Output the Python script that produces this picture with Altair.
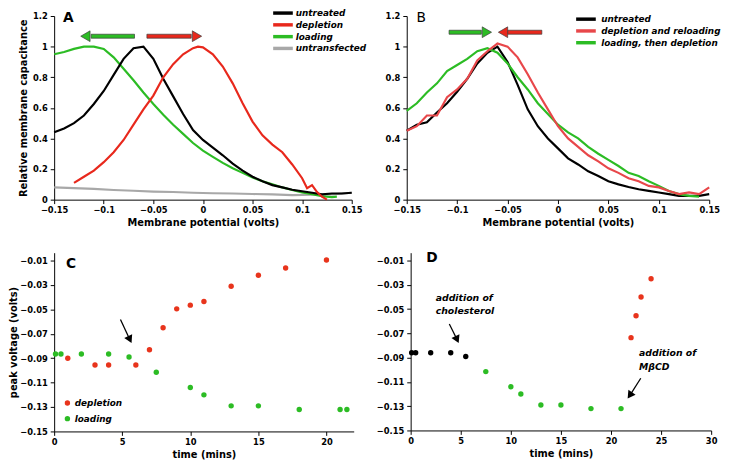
import altair as alt
import pandas as pd

FONT = "DejaVu Sans"

# ---------------- Panel A data ----------------
a_series = ["untreated", "depletion", "loading", "untransfected"]
a_colors = ["#000000", "#e8281c", "#2cbc24", "#a8a8a8"]

a_untreated_x = [-0.15, -0.14, -0.13, -0.12, -0.11, -0.10, -0.09, -0.08, -0.07, -0.06, -0.05,
                 -0.04, -0.03, -0.02, -0.01, 0.0, 0.01, 0.02, 0.03, 0.04, 0.05, 0.06, 0.07,
                 0.08, 0.09, 0.10, 0.11, 0.12, 0.13, 0.14, 0.15]
a_untreated = [0.44, 0.465, 0.50, 0.55, 0.625, 0.71, 0.815, 0.92, 0.99, 1.0, 0.92,
               0.79, 0.675, 0.56, 0.455, 0.39, 0.34, 0.29, 0.235, 0.19, 0.15, 0.12, 0.095,
               0.08, 0.065, 0.055, 0.045, 0.035, 0.04, 0.04, 0.045]

a_depletion_x = [-0.13, -0.12, -0.11, -0.10, -0.09, -0.08, -0.07, -0.06, -0.05, -0.04, -0.03,
                 -0.02, -0.01, -0.005, 0.0, 0.01, 0.02, 0.03, 0.04, 0.05, 0.06, 0.07, 0.08,
                 0.09, 0.10, 0.105, 0.11, 0.115, 0.12, 0.125]
a_depletion = [0.11, 0.15, 0.19, 0.245, 0.31, 0.39, 0.49, 0.59, 0.68, 0.80, 0.885,
               0.95, 0.99, 1.0, 0.995, 0.95, 0.87, 0.76, 0.63, 0.51, 0.42, 0.36, 0.31,
               0.23, 0.14, 0.075, 0.095, 0.05, 0.02, 0.0]

a_loading_x = [-0.15, -0.14, -0.13, -0.12, -0.11, -0.10, -0.09, -0.08, -0.07, -0.06, -0.05,
               -0.04, -0.03, -0.02, -0.01, 0.0, 0.01, 0.02, 0.03, 0.04, 0.05, 0.06, 0.07,
               0.08, 0.09, 0.10, 0.11, 0.12, 0.13, 0.135]
a_loading = [0.95, 0.965, 0.985, 1.0, 1.0, 0.985, 0.93, 0.855, 0.78, 0.70, 0.625,
             0.555, 0.49, 0.43, 0.37, 0.32, 0.28, 0.24, 0.205, 0.175, 0.145, 0.12, 0.10,
             0.08, 0.063, 0.047, 0.035, 0.022, 0.017, 0.02]

a_untransfected_x = [-0.15, -0.13, -0.11, -0.09, -0.07, -0.05, -0.03, -0.01, 0.01, 0.03,
                     0.05, 0.07, 0.09, 0.11, 0.13, 0.15]
a_untransfected = [0.08, 0.075, 0.07, 0.063, 0.058, 0.053, 0.05, 0.045, 0.042, 0.04,
                   0.037, 0.035, 0.03, 0.032, 0.035, 0.045]

# block arrows of panel A: body from/to, head centre, direction
a_arrow_color = ["#2cbc24", "#e8281c"]
a_arrow_body_x = [-0.1127, -0.0565]
a_arrow_body_x2 = [-0.069, -0.0118]
a_arrow_head_x = [-0.1185, -0.006]
a_arrow_head_shape = ["triangle-left", "triangle-right"]
a_arrow_y = [1.068, 1.068]

# ---------------- Panel B data ----------------
b_series = ["untreated", "depletion and reloading", "loading, then depletion"]
b_colors = ["#000000", "#e8474a", "#2cbc24"]

b_x = [-0.15, -0.14, -0.13, -0.12, -0.11, -0.10, -0.09, -0.08, -0.07, -0.06, -0.05,
       -0.04, -0.03, -0.02, -0.01, 0.0, 0.01, 0.02, 0.03, 0.04, 0.05, 0.06, 0.07,
       0.08, 0.09, 0.10, 0.11, 0.12, 0.13, 0.14, 0.15]
b_untreated = [0.45, 0.49, 0.505, 0.57, 0.63, 0.705, 0.79, 0.89, 0.96, 1.0, 0.90,
               0.75, 0.59, 0.48, 0.40, 0.335, 0.27, 0.23, 0.185, 0.155, 0.12, 0.10, 0.083,
               0.068, 0.057, 0.047, 0.036, 0.025, 0.025, 0.025, 0.036]
b_reloading = [0.45, 0.48, 0.55, 0.55, 0.67, 0.72, 0.79, 0.91, 0.97, 1.02, 1.0,
               0.93, 0.82, 0.70, 0.59, 0.48, 0.40, 0.345, 0.29, 0.25, 0.205, 0.175, 0.14,
               0.12, 0.09, 0.08, 0.057, 0.036, 0.047, 0.036, 0.08]
b_loaddep_x = [-0.15, -0.14, -0.13, -0.12, -0.11, -0.10, -0.09, -0.08, -0.07, -0.06, -0.05,
               -0.04, -0.03, -0.02, -0.01, 0.0, 0.01, 0.02, 0.03, 0.04, 0.05, 0.06, 0.07,
               0.08, 0.09, 0.10, 0.11, 0.12, 0.13, 0.14]
b_loaddep = [0.58, 0.63, 0.70, 0.76, 0.84, 0.88, 0.92, 0.97, 0.99, 0.96, 0.89,
             0.80, 0.72, 0.63, 0.56, 0.49, 0.44, 0.40, 0.345, 0.30, 0.26, 0.22, 0.175,
             0.155, 0.12, 0.09, 0.057, 0.036, 0.025, 0.02]

b_arrow_color = ["#2cbc24", "#e8281c"]
b_arrow_body_x = [-0.108, -0.050]
b_arrow_body_x2 = [-0.076, -0.016]
b_arrow_head_x = [-0.0705, -0.0545]
b_arrow_head_shape = ["triangle-right", "triangle-left"]
b_arrow_y = [1.094, 1.094]

# ---------------- Panel C data ----------------
c_series = ["depletion", "loading"]
c_colors = ["#e8341c", "#2cbc24"]
c_dep_t = [1, 3, 4, 6, 7, 8, 9, 10, 11, 13, 15, 17, 20]
c_dep_v = [-0.090, -0.0955, -0.0955, -0.0955, -0.083, -0.065, -0.0495, -0.0465, -0.0435,
           -0.031, -0.022, -0.016, -0.0095]
c_load_t = [0.1, 0.5, 2, 4, 5.5, 7.5, 10, 11, 13, 15, 18, 21, 21.5]
c_load_v = [-0.0865, -0.0865, -0.0865, -0.0865, -0.089, -0.1015, -0.114, -0.12, -0.129,
            -0.129, -0.132, -0.132, -0.132]
c_arrow_start = (4.87, -0.0582)
c_arrow_head = (5.52, -0.0738)

# ---------------- Panel D data ----------------
d_t = [0.1, 0.5, 2, 4, 5.5, 7.5, 10, 11, 13, 15, 18, 21, 22, 22.5, 23, 24]
d_v = [-0.086, -0.086, -0.086, -0.086, -0.089, -0.1015, -0.114, -0.12, -0.129, -0.129,
       -0.132, -0.132, -0.0735, -0.0555, -0.04, -0.025]
d_phase = ["before"] * 5 + ["cholesterol"] * 7 + ["MβCD"] * 4
d_phase_names = ["before", "cholesterol", "MβCD"]
d_phase_colors = ["#000000", "#2cbc24", "#e8341c"]
d_text = ["addition of", "cholesterol", "addition of", "MβCD"]
d_text_t = [2.5, 2.5, 22.8, 22.8]
d_text_v = [-0.0405, -0.0515, -0.0865, -0.0975]
d_arrow_start_t = [3.86, 22.97]
d_arrow_start_v = [-0.0622, -0.107]
d_arrow_head_t = [4.58, 21.95]
d_arrow_head_v = [-0.0742, -0.1203]
d_arrow_angle = [155, 215]

c_ticks_y = [-0.01, -0.03, -0.05, -0.07, -0.09, -0.11, -0.13, -0.15]
volt_ticks = [-0.15, -0.1, -0.05, 0, 0.05, 0.1, 0.15]
cap_ticks = [0, 0.2, 0.4, 0.6, 0.8, 1.0, 1.2]

LINE_SYMBOL = "M-5,0H5"


# ---------------- helpers ----------------
def frame(xs, ys, name):
    return pd.DataFrame({"v": xs, "c": ys, "s": name})


def axis(values, fmt, title, tp=4, lp=3):
    return alt.Axis(values=values, tickCount=len(values) + 2, format=fmt, title=title,
                    titlePadding=tp, labelPadding=lp, labelOverlap=False, labelBound=False,
                    labelFlush=False, grid=False)


def block_arrows(colors, bx, bx2, hx, shapes, ys, xscale, yscale):
    body = pd.DataFrame({"x": bx, "x2": bx2, "y": [y - 0.013 for y in ys],
                         "y2": [y + 0.013 for y in ys], "col": colors})
    head = pd.DataFrame({"x": hx, "y": ys, "shape": shapes, "col": colors})
    r = alt.Chart(body).mark_rect(stroke="#3a3a3a", strokeWidth=0.7).encode(
        x=alt.X("x:Q", scale=xscale), x2="x2:Q",
        y=alt.Y("y:Q", scale=yscale), y2="y2:Q",
        fill=alt.Fill("col:N", scale=None))
    h = alt.Chart(head).mark_point(filled=True, stroke="#3a3a3a", strokeWidth=0.7,
                                   opacity=1, size=120).encode(
        x=alt.X("x:Q", scale=xscale), y=alt.Y("y:Q", scale=yscale),
        shape=alt.Shape("shape:N", scale=None), fill=alt.Fill("col:N", scale=None))
    return r + h


def letter(txt, px, py, weight="bold"):
    return alt.Chart(pd.DataFrame({"t": [txt]})).mark_text(
        align="left", baseline="middle", fontSize=14, fontWeight=weight, font=FONT
    ).encode(text="t:N", x=alt.value(px), y=alt.value(py))


def line_legend(lx, ly, row_pad, label_offset):
    return alt.Legend(orient="none", legendX=lx, legendY=ly, title=None,
                      symbolType=LINE_SYMBOL, symbolSize=16, symbolStrokeWidth=3.5,
                      labelFontSize=9, labelFontStyle="italic", labelFontWeight="bold",
                      labelFont=FONT, rowPadding=row_pad, labelOffset=label_offset,
                      padding=0, labelColor="black")


# ---------------- Panel A ----------------
xsA = alt.Scale(domain=[-0.15, 0.15], nice=False, zero=False)
ysA = alt.Scale(domain=[0, 1.2], nice=False)
dfA = pd.concat([frame(a_untransfected_x, a_untransfected, "untransfected"),
                 frame(a_loading_x, a_loading, "loading"),
                 frame(a_depletion_x, a_depletion, "depletion"),
                 frame(a_untreated_x, a_untreated, "untreated")])
colA = alt.Color("s:N", scale=alt.Scale(domain=a_series, range=a_colors),
                 legend=line_legend(228.5, -7.5, -5.5, 8.5))
layersA = []
for name in ["untransfected", "loading", "untreated", "depletion"]:
    layersA.append(alt.Chart(dfA).transform_filter(alt.datum.s == name).mark_line(
        strokeWidth=2.2).encode(
        x=alt.X("v:Q", scale=xsA, axis=axis(volt_ticks, ".2~f", "Membrane potential (volts)", 4, 2)),
        y=alt.Y("c:Q", scale=ysA, axis=axis(cap_ticks, ".1~f", "Relative membrane capacitance", 4, 3)),
        color=colA, order=alt.Order("v:Q")))
chartA = alt.layer(
    *layersA,
    block_arrows(a_arrow_color, a_arrow_body_x, a_arrow_body_x2, a_arrow_head_x,
                 a_arrow_head_shape, a_arrow_y, xsA, ysA),
    letter("A", 9, 2),
).properties(width=303, height=187)

# ---------------- Panel B ----------------
xsB = alt.Scale(domain=[-0.15, 0.15], nice=False, zero=False)
ysB = alt.Scale(domain=[0, 1.2], nice=False)
dfB = pd.concat([frame(b_x, b_untreated, "untreated"),
                 frame(b_x, b_reloading, "depletion and reloading"),
                 frame(b_loaddep_x, b_loaddep, "loading, then depletion")])
colB = alt.Color("s:N", scale=alt.Scale(domain=b_series, range=b_colors),
                 legend=line_legend(178, -1.3, -4, 11))
layersB = []
for name in ["untreated", "loading, then depletion", "depletion and reloading"]:
    layersB.append(alt.Chart(dfB).transform_filter(alt.datum.s == name).mark_line(
        strokeWidth=2.2).encode(
        x=alt.X("v:Q", scale=xsB, axis=axis(volt_ticks, ".2~f", "Membrane potential (volts)", 4, 2)),
        y=alt.Y("c:Q", scale=ysB, axis=axis(cap_ticks, ".1~f", None, 2, 3)),
        color=colB, order=alt.Order("v:Q")))
chartB = alt.layer(
    *layersB,
    block_arrows(b_arrow_color, b_arrow_body_x, b_arrow_body_x2, b_arrow_head_x,
                 b_arrow_head_shape, b_arrow_y, xsB, ysB),
    letter("B", 10, 2, "normal"),
).properties(width=308, height=187)

# ---------------- Panel C ----------------
xsC = alt.Scale(domain=[0, 22], nice=False)
ysC = alt.Scale(domain=[-0.15, -0.0035], nice=False, zero=False)
dfC = pd.concat([pd.DataFrame({"t": c_dep_t, "p": c_dep_v, "s": "depletion"}),
                 pd.DataFrame({"t": c_load_t, "p": c_load_v, "s": "loading"})])
pointsC = alt.Chart(dfC).mark_circle(size=30, opacity=1).encode(
    x=alt.X("t:Q", scale=xsC, axis=axis([0, 5, 10, 15, 20], "d", "time (mins)", 4, 2)),
    y=alt.Y("p:Q", scale=ysC, axis=axis(c_ticks_y, ".2f", "peak voltage (volts)", 1, 3)),
    color=alt.Color("s:N", scale=alt.Scale(domain=c_series, range=c_colors),
                    legend=alt.Legend(orient="none", legendX=9, legendY=148.5, title=None,
                                      symbolType="circle", symbolSize=30,
                                      labelFontSize=9, labelFontStyle="italic",
                                      labelFontWeight="bold", labelFont=FONT, rowPadding=6,
                                      labelOffset=3, padding=0, labelColor="black")))
arrowCdf = pd.DataFrame({"t": [c_arrow_start[0]], "p": [c_arrow_start[1]],
                         "t2": [c_arrow_head[0]], "p2": [c_arrow_head[1]]})
shaftC = alt.Chart(arrowCdf).mark_rule(color="black", strokeWidth=1.3).encode(
    x=alt.X("t:Q", scale=xsC), y=alt.Y("p:Q", scale=ysC), x2="t2:Q", y2="p2:Q")
headC = alt.Chart(arrowCdf).mark_point(shape="triangle", filled=True, color="black",
                                       opacity=1, size=80, angle=154).encode(
    x=alt.X("t2:Q", scale=xsC), y=alt.Y("p2:Q", scale=ysC))
chartC = alt.layer(pointsC, shaftC, headC, letter("C", 12, 12)).properties(
    width=305, height=182)

# ---------------- Panel D ----------------
xsD = alt.Scale(domain=[0, 30], nice=False)
ysD = alt.Scale(domain=[-0.15, -0.0035], nice=False, zero=False)
dfD = pd.DataFrame({"t": d_t, "p": d_v, "ph": d_phase})
pointsD = alt.Chart(dfD).mark_circle(size=30, opacity=1).encode(
    x=alt.X("t:Q", scale=xsD, axis=axis([0, 5, 10, 15, 20, 25, 30], "d", "time (mins)", 4, 2)),
    y=alt.Y("p:Q", scale=ysD, axis=axis(c_ticks_y, ".2f", None, 1, 3)),
    color=alt.Color("ph:N", scale=alt.Scale(domain=d_phase_names, range=d_phase_colors),
                    legend=None))
textD = alt.Chart(pd.DataFrame({"t": d_text_t, "p": d_text_v, "txt": d_text})).mark_text(
    align="left", baseline="middle", fontSize=9.5, fontStyle="italic", fontWeight="bold",
    font=FONT).encode(x=alt.X("t:Q", scale=xsD), y=alt.Y("p:Q", scale=ysD), text="txt:N")
arrowDdf = pd.DataFrame({"t": d_arrow_start_t, "p": d_arrow_start_v,
                         "t2": d_arrow_head_t, "p2": d_arrow_head_v, "a": d_arrow_angle})
shaftD = alt.Chart(arrowDdf).mark_rule(color="black", strokeWidth=1.3).encode(
    x=alt.X("t:Q", scale=xsD), y=alt.Y("p:Q", scale=ysD), x2="t2:Q", y2="p2:Q")
headD = alt.Chart(arrowDdf).mark_point(shape="triangle", filled=True, color="black",
                                       opacity=1, size=80).encode(
    x=alt.X("t2:Q", scale=xsD), y=alt.Y("p2:Q", scale=ysD),
    angle=alt.Angle("a:Q", scale=None))
chartD = alt.layer(pointsD, textD, shaftD, headD, letter("D", 16, 5)).properties(
    width=306, height=181)

# ---------------- assemble ----------------
top = alt.hconcat(chartA, chartB, spacing=17).resolve_scale(color="independent")
bottom = alt.hconcat(chartC, chartD, spacing=22).resolve_scale(color="independent")
chart = alt.vconcat(top, bottom, spacing=23).resolve_scale(color="independent").properties(
    padding={"left": 0, "top": -4, "right": 0, "bottom": 0}
).configure(font=FONT).configure_axis(
    labelFontSize=8.5, labelFontWeight="bold", labelFont=FONT, labelColor="black",
    titleFontSize=10, titleFontWeight="bold", titleFont=FONT, titleColor="black",
    grid=False, domainColor="black", tickColor="black", tickSize=4,
    labelFlush=False, labelOverlap=False
).configure_view(stroke=None)

chart.save("out.html", embed_options={"renderer": "svg", "actions": False})
